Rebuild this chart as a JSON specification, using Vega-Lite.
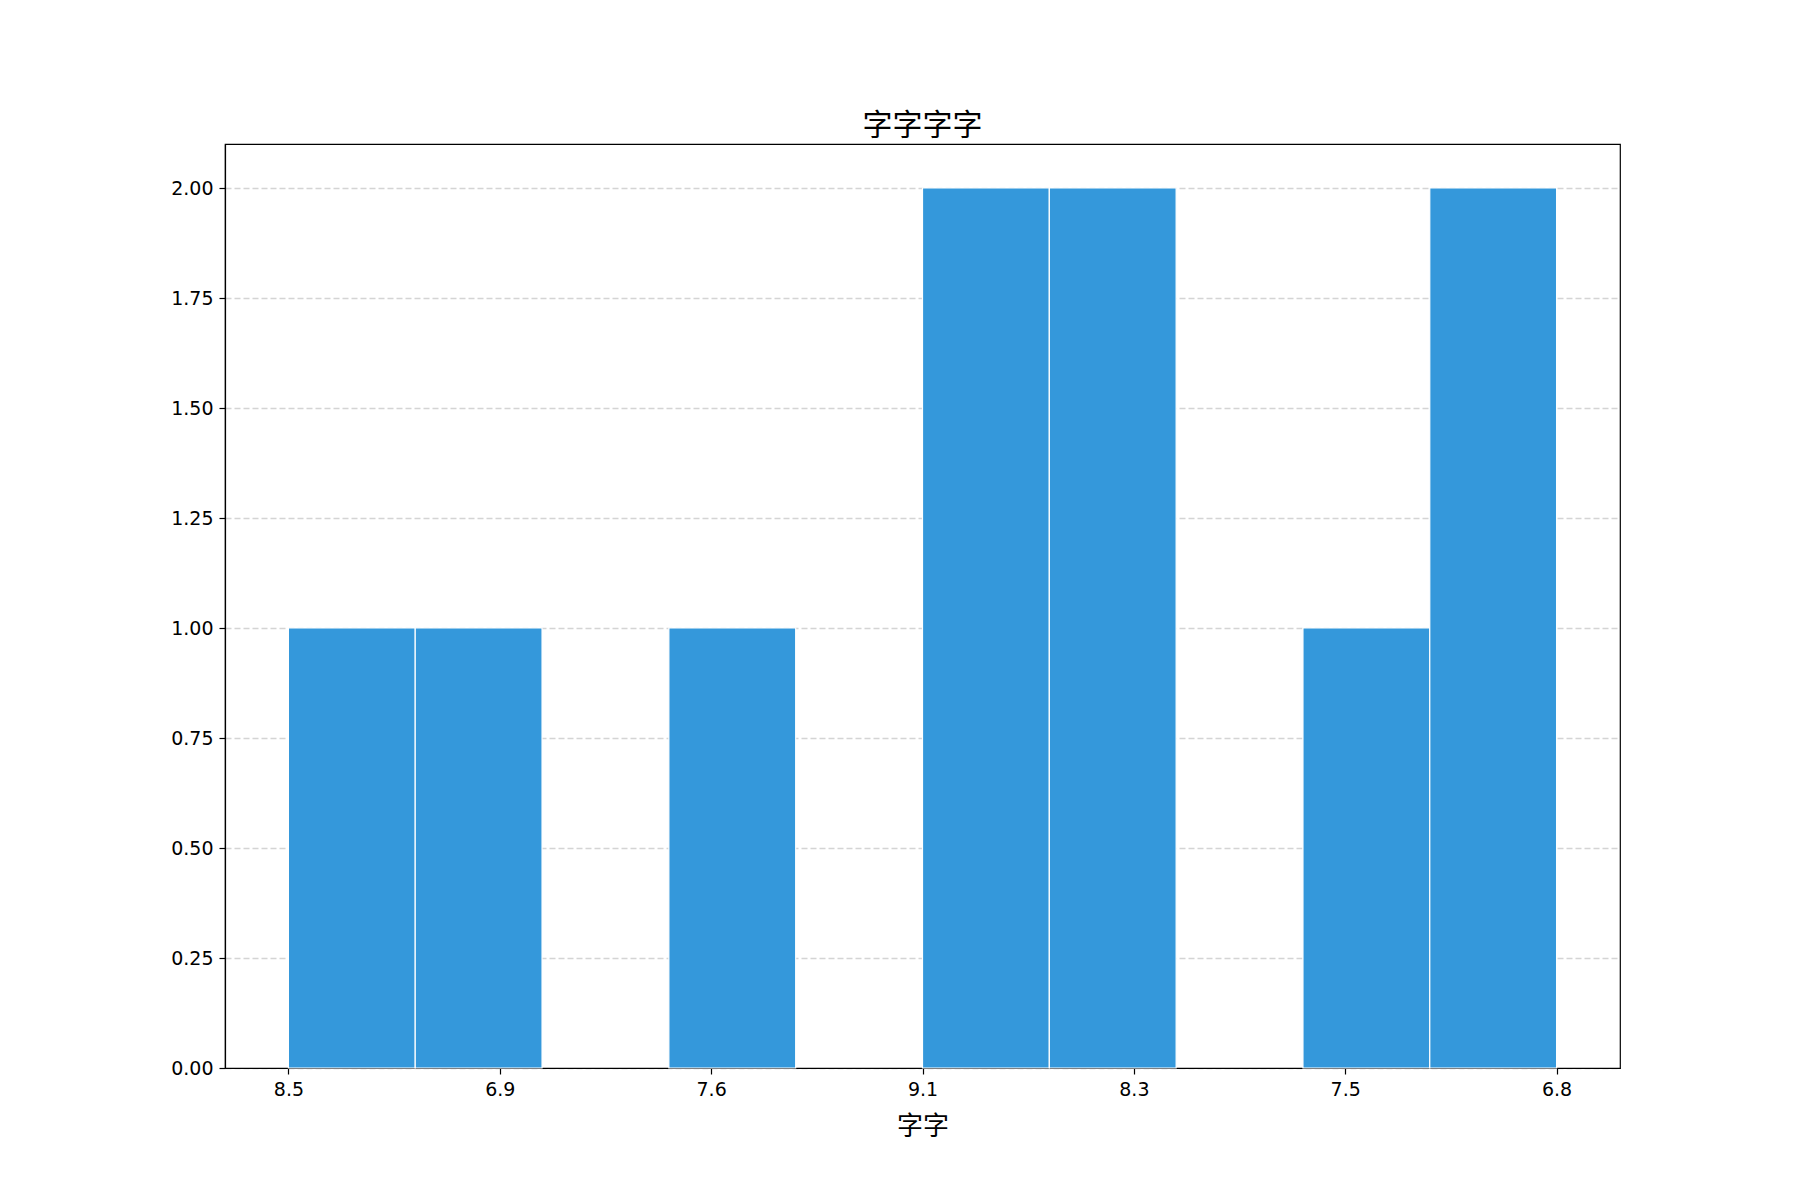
{
  "$schema": "https://vega.github.io/schema/vega-lite/v6.json",
  "width": 1395,
  "height": 924,
  "autosize": {"type": "none"},
  "padding": {"left": 225, "top": 144, "right": 180, "bottom": 132},
  "background": "white",
  "config": {
    "view": {"stroke": "#000000", "strokeWidth": 1.2},
    "font": "DejaVu Sans",
    "axis": {
      "labelFont": "DejaVu Sans",
      "labelFontSize": 19,
      "labelColor": "#000000",
      "domainColor": "#000000",
      "domainWidth": 1.2,
      "tickColor": "#000000",
      "tickWidth": 1.2,
      "tickSize": 6,
      "labelPadding": 6,
      "titleFont": "Noto Sans CJK SC",
      "titleFontSize": 26,
      "titleFontWeight": "normal",
      "titleColor": "#000000"
    }
  },
  "title": {
    "text": "字字字字",
    "font": "Noto Sans CJK SC",
    "fontSize": 30,
    "fontWeight": "normal",
    "color": "#000000",
    "offset": 3
  },
  "data": {
    "values": [
      {"start": 0.0, "end": 0.6, "count": 1},
      {"start": 0.6, "end": 1.2, "count": 1},
      {"start": 1.8, "end": 2.4, "count": 1},
      {"start": 3.0, "end": 3.6, "count": 2},
      {"start": 3.6, "end": 4.2, "count": 2},
      {"start": 4.8, "end": 5.4, "count": 1},
      {"start": 5.4, "end": 6.0, "count": 2}
    ]
  },
  "mark": {"type": "bar", "color": "#3498db", "stroke": "#ffffff", "strokeWidth": 1.2},
  "encoding": {
    "x": {
      "field": "start",
      "type": "quantitative",
      "scale": {"domain": [-0.3, 6.3], "nice": false, "zero": false},
      "axis": {
        "title": "字字",
        "values": [0, 1, 2, 3, 4, 5, 6],
        "labelExpr": "['8.5','6.9','7.6','9.1','8.3','7.5','6.8'][datum.value]",
        "grid": false,
        "titlePadding": 14
      }
    },
    "x2": {"field": "end"},
    "y": {
      "field": "count",
      "type": "quantitative",
      "scale": {"domain": [0, 2.1], "nice": false},
      "axis": {
        "title": null,
        "values": [0, 0.25, 0.5, 0.75, 1, 1.25, 1.5, 1.75, 2],
        "format": ".2f",
        "grid": true,
        "gridColor": "#cccccc",
        "gridOpacity": 0.85,
        "gridDash": [6, 3],
        "gridWidth": 1.4
      }
    },
    "y2": {"datum": 0}
  }
}
